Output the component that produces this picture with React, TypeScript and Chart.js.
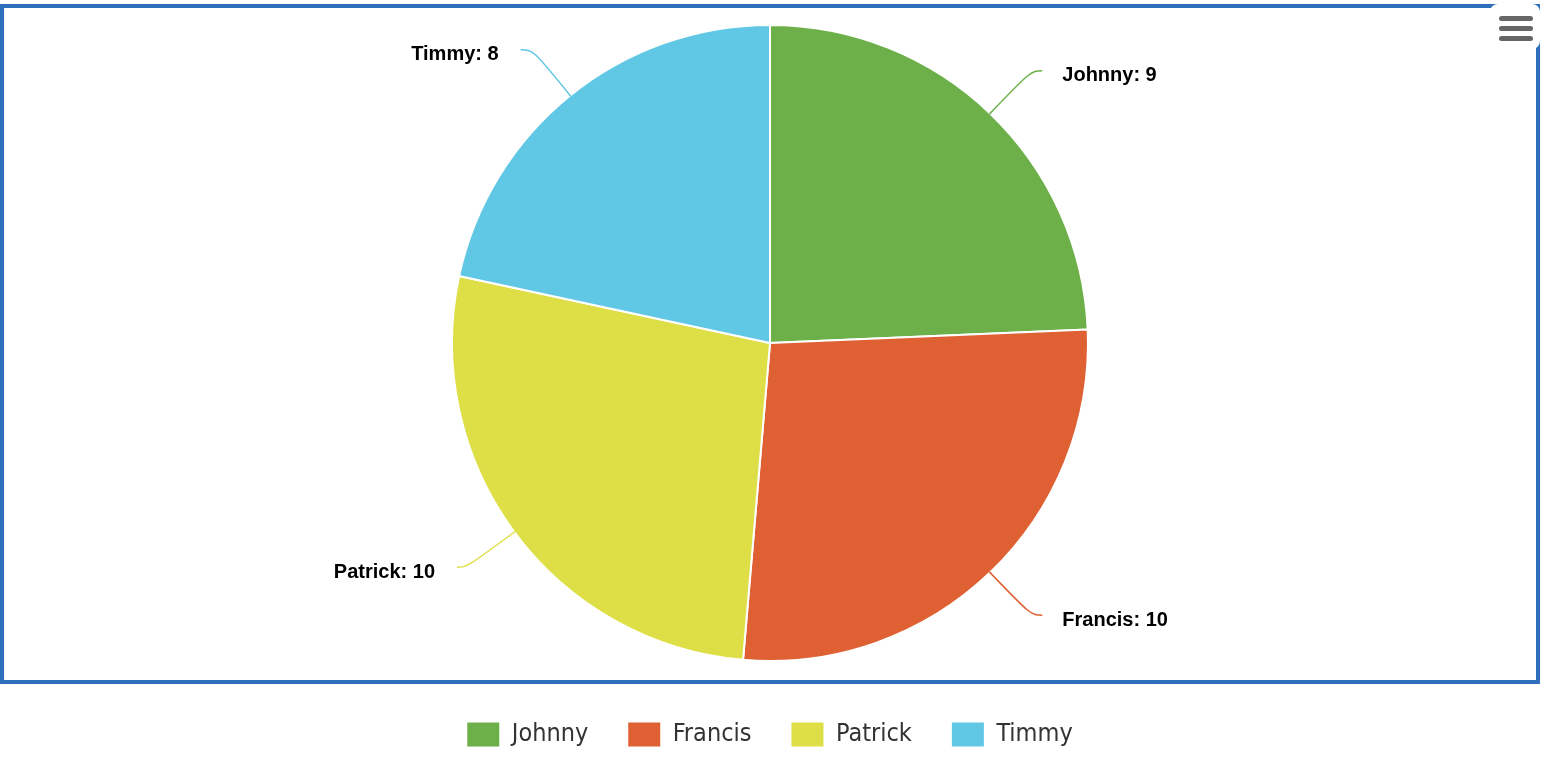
import React, { useEffect, useRef } from "react";
import { Chart, registerables } from "chart.js";

Chart.register(...registerables);

const names = ["Johnny", "Francis", "Patrick", "Timmy"];
const values = [9, 10, 10, 8];
const sliceColors = ["#6db04a", "#df6133", "#dedf47", "#60c7e4"];

const labelFont = "bold 20px 'Liberation Sans', Arial, sans-serif";

const connectorPlugin = {
  id: "pieConnectors",
  afterDatasetsDraw(chart: any) {
    const meta = chart.getDatasetMeta(0);
    const ctx = chart.ctx as CanvasRenderingContext2D;
    ctx.save();
    meta.data.forEach((arc: any, i: number) => {
      const { x: cx, y: cy, startAngle, endAngle, outerRadius } = arc.getProps(
        ["x", "y", "startAngle", "endAngle", "outerRadius"],
        true
      );
      const rr = outerRadius - 1;
      const a = (startAngle + endAngle) / 2;
      const ca = Math.cos(a);
      const sa = Math.sin(a);
      const right = ca >= 0;
      const p0x = cx + rr * ca;
      const p0y = cy + rr * sa;
      const bx = cx + (rr + 60) * ca;
      const by = cy + (rr + 60) * sa;
      const dy = (rr + 60) * sa;
      const rx = rr + 68;
      const ex = cx + (right ? 1 : -1) * Math.sqrt(Math.max(rx * rx - dy * dy, 0));
      const ey = cy + dy;
      ctx.beginPath();
      ctx.moveTo(p0x, p0y);
      ctx.bezierCurveTo(bx, by, bx, by, ex, ey);
      ctx.strokeStyle = sliceColors[i];
      ctx.lineWidth = 1.5;
      ctx.stroke();
      ctx.font = labelFont;
      ctx.fillStyle = "#000000";
      ctx.textBaseline = "middle";
      ctx.textAlign = right ? "left" : "right";
      const text = `${names[i]}: ${values[i]}`;
      ctx.fillText(text, right ? ex + 20 : ex - 22, ey + 5);
    });
    ctx.restore();
  },
};

export default function App() {
  const canvasRef = useRef<HTMLCanvasElement | null>(null);

  useEffect(() => {
    if (!canvasRef.current) return;
    const chart = new Chart(canvasRef.current, {
      type: "pie",
      data: {
        labels: names,
        datasets: [
          {
            data: values,
            backgroundColor: sliceColors,
            borderColor: "#ffffff",
            borderWidth: 2,
            radius: 318,
          } as any,
        ],
      },
      options: {
        animation: false,
        responsive: true,
        maintainAspectRatio: false,
        layout: { padding: { top: 4, left: 0, right: 16, bottom: 7 } },
        plugins: {
          tooltip: { enabled: false },
          legend: {
            display: true,
            position: "bottom",
            labels: {
              boxWidth: 32,
              boxHeight: 24,
              padding: 40,
              color: "#333333",
              font: {
                family: "'DejaVu Sans Condensed', 'DejaVu Sans', sans-serif",
                size: 25,
              },
              generateLabels: (c: any) =>
                (Chart as any).overrides.pie.plugins.legend.labels
                  .generateLabels(c)
                  .map((l: any) => ({ ...l, lineWidth: 0 })),
            },
          },
        },
      },
      plugins: [connectorPlugin],
    });
    return () => chart.destroy();
  }, []);

  return (
    <div
      style={{
        position: "absolute",
        left: 0,
        top: 0,
        width: 1556,
        height: 764,
        background: "#ffffff",
        overflow: "hidden",
      }}
    >
      <canvas ref={canvasRef} style={{ position: "absolute", left: 0, top: 0 }} />
      <div
        style={{
          position: "absolute",
          left: 0,
          top: 4,
          width: 1540,
          height: 680,
          boxSizing: "border-box",
          border: "4px solid #2e6eba",
          pointerEvents: "none",
        }}
      />
      <div
        style={{
          position: "absolute",
          left: 1490,
          top: 4,
          width: 50,
          height: 45,
          background: "#ffffff",
          borderRadius: 8,
          pointerEvents: "none",
        }}
      >
        {[12, 22, 32].map((t) => (
          <div
            key={t}
            style={{
              position: "absolute",
              left: 9,
              top: t,
              width: 34,
              height: 5,
              borderRadius: 3,
              background: "#666666",
            }}
          />
        ))}
      </div>
    </div>
  );
}
